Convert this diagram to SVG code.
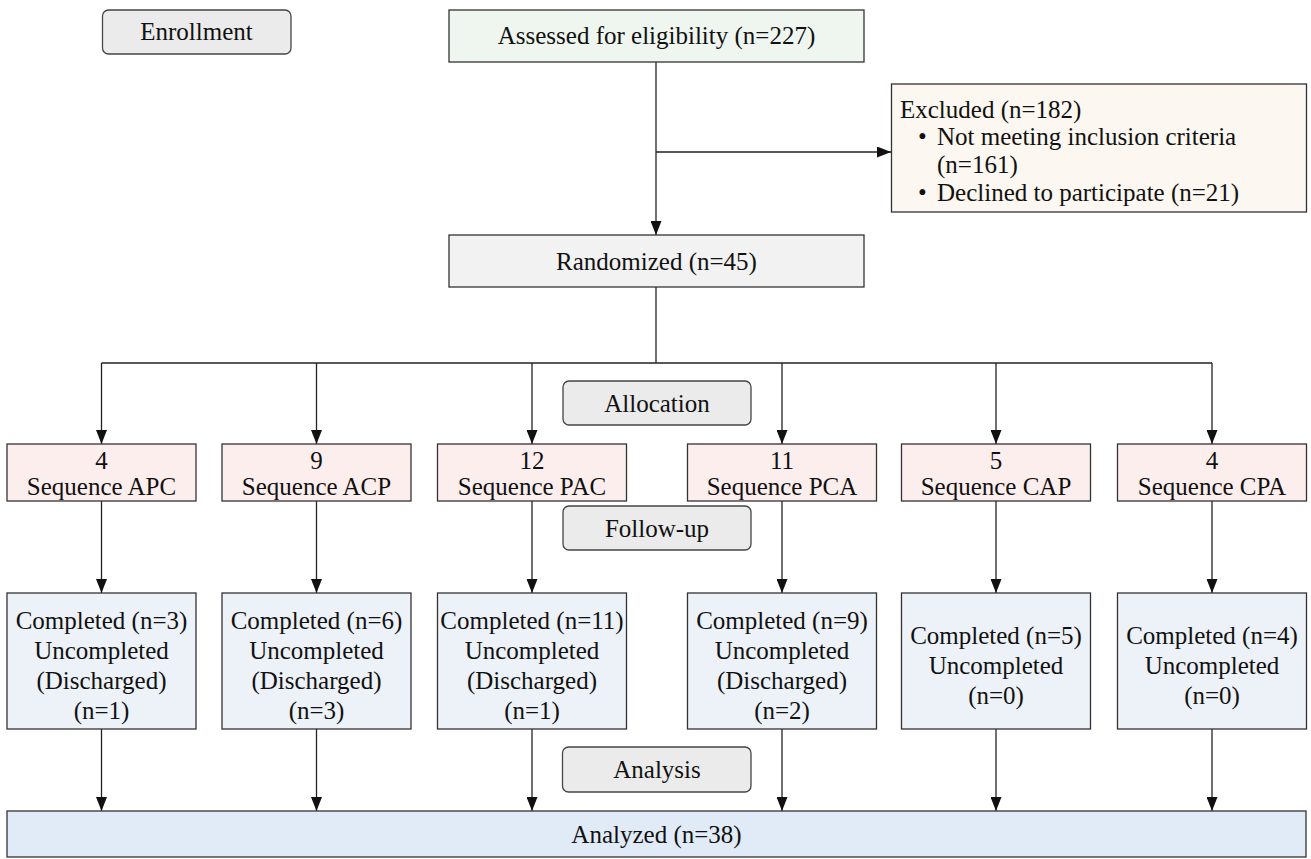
<svg xmlns="http://www.w3.org/2000/svg" width="1311" height="859" viewBox="0 0 1311 859">
<style>
text{font-family:"Liberation Serif","Times New Roman",serif;font-size:25px;fill:#111;}
.c{text-anchor:middle;}
.box{stroke:#333;stroke-width:1.3;}
.stage{fill:#ebebeb;stroke:#444;stroke-width:1.3;}
.seq{fill:#fdeeee;stroke:#333;stroke-width:1.3;}
.comp{fill:#edf1f8;stroke:#333;stroke-width:1.3;}
.ln{stroke:#222;stroke-width:1.3;fill:none;}
.arr{stroke:#222;stroke-width:1.3;fill:none;marker-end:url(#ah);}
</style>
<defs>
<marker id="ah" viewBox="0 0 14 11" refX="14" refY="5.5" markerWidth="14" markerHeight="11" markerUnits="userSpaceOnUse" orient="auto">
<path d="M0,0 L14,5.5 L0,11 Z" fill="#111"/>
</marker>
</defs>
<rect width="1311" height="859" fill="#fff"/>

<g id="connectors">
<line class="arr" x1="656" y1="62" x2="656" y2="235"/>
<line class="arr" x1="656" y1="152" x2="891" y2="152"/>
<line class="ln" x1="656" y1="287" x2="656" y2="363"/>
<line class="ln" x1="101.5" y1="363" x2="1212" y2="363"/>
<line class="arr" x1="101.5" y1="363" x2="101.5" y2="444"/>
<line class="arr" x1="316.5" y1="363" x2="316.5" y2="444"/>
<line class="arr" x1="532" y1="363" x2="532" y2="444"/>
<line class="arr" x1="782" y1="363" x2="782" y2="444"/>
<line class="arr" x1="996" y1="363" x2="996" y2="444"/>
<line class="arr" x1="1212" y1="363" x2="1212" y2="444"/>
<line class="arr" x1="101.5" y1="501" x2="101.5" y2="593"/>
<line class="arr" x1="316.5" y1="501" x2="316.5" y2="593"/>
<line class="arr" x1="532" y1="501" x2="532" y2="593"/>
<line class="arr" x1="782" y1="501" x2="782" y2="593"/>
<line class="arr" x1="996" y1="501" x2="996" y2="593"/>
<line class="arr" x1="1212" y1="501" x2="1212" y2="593"/>
<line class="arr" x1="101.5" y1="729" x2="101.5" y2="811"/>
<line class="arr" x1="316.5" y1="729" x2="316.5" y2="811"/>
<line class="arr" x1="532" y1="729" x2="532" y2="811"/>
<line class="arr" x1="782" y1="729" x2="782" y2="811"/>
<line class="arr" x1="996" y1="729" x2="996" y2="811"/>
<line class="arr" x1="1212" y1="729" x2="1212" y2="811"/>
</g>

<g id="enrollment">
<rect class="stage" x="102.5" y="10" width="188.5" height="44" rx="6"/>
<text class="c" x="196.5" y="40">Enrollment</text>
</g>
<g id="assessed">
<rect class="box" x="449" y="10" width="415" height="52" fill="#eef6ef"/>
<text class="c" x="656.5" y="44">Assessed for eligibility (n=227)</text>
</g>
<g id="excluded">
<rect class="box" x="891.5" y="84" width="415" height="128" fill="#fcf7f0"/>
<text x="900" y="118">Excluded (n=182)</text>
<text x="918" y="145">•</text>
<text x="937" y="145">Not meeting inclusion criteria</text>
<text x="937" y="173">(n=161)</text>
<text x="918" y="201">•</text>
<text x="937" y="201">Declined to participate (n=21)</text>
</g>
<g id="randomized">
<rect class="box" x="449" y="235" width="415" height="52" fill="#f2f2f2"/>
<text class="c" x="656.5" y="270">Randomized (n=45)</text>
</g>
<g id="allocation">
<rect class="stage" x="563" y="381" width="188" height="44" rx="6"/>
<text class="c" x="657" y="412">Allocation</text>
</g>

<g id="seq-apc">
<rect class="seq" x="7" y="444" width="189" height="57"/>
<text class="c" x="101.5" y="469">4</text>
<text class="c" x="101.5" y="495">Sequence APC</text>
</g>
<g id="seq-acp">
<rect class="seq" x="222" y="444" width="189" height="57"/>
<text class="c" x="316.5" y="469">9</text>
<text class="c" x="316.5" y="495">Sequence ACP</text>
</g>
<g id="seq-pac">
<rect class="seq" x="437.5" y="444" width="189" height="57"/>
<text class="c" x="532" y="469">12</text>
<text class="c" x="532" y="495">Sequence PAC</text>
</g>
<g id="seq-pca">
<rect class="seq" x="687.5" y="444" width="189" height="57"/>
<text class="c" x="782" y="469">11</text>
<text class="c" x="782" y="495">Sequence PCA</text>
</g>
<g id="seq-cap">
<rect class="seq" x="901.5" y="444" width="189" height="57"/>
<text class="c" x="996" y="469">5</text>
<text class="c" x="996" y="495">Sequence CAP</text>
</g>
<g id="seq-cpa">
<rect class="seq" x="1117.5" y="444" width="189" height="57"/>
<text class="c" x="1212" y="469">4</text>
<text class="c" x="1212" y="495">Sequence CPA</text>
</g>

<g id="followup">
<rect class="stage" x="563" y="506" width="188" height="44" rx="6"/>
<text class="c" x="657" y="537">Follow-up</text>
</g>

<g id="comp-apc">
<rect class="comp" x="7" y="593" width="189" height="136"/>
<text class="c" x="101.5" y="629">Completed (n=3)</text>
<text class="c" x="101.5" y="659">Uncompleted</text>
<text class="c" x="101.5" y="689">(Discharged)</text>
<text class="c" x="101.5" y="719">(n=1)</text>
</g>
<g id="comp-acp">
<rect class="comp" x="222" y="593" width="189" height="136"/>
<text class="c" x="316.5" y="629">Completed (n=6)</text>
<text class="c" x="316.5" y="659">Uncompleted</text>
<text class="c" x="316.5" y="689">(Discharged)</text>
<text class="c" x="316.5" y="719">(n=3)</text>
</g>
<g id="comp-pac">
<rect class="comp" x="437.5" y="593" width="189" height="136"/>
<text class="c" x="532" y="629">Completed (n=11)</text>
<text class="c" x="532" y="659">Uncompleted</text>
<text class="c" x="532" y="689">(Discharged)</text>
<text class="c" x="532" y="719">(n=1)</text>
</g>
<g id="comp-pca">
<rect class="comp" x="687.5" y="593" width="189" height="136"/>
<text class="c" x="782" y="629">Completed (n=9)</text>
<text class="c" x="782" y="659">Uncompleted</text>
<text class="c" x="782" y="689">(Discharged)</text>
<text class="c" x="782" y="719">(n=2)</text>
</g>
<g id="comp-cap">
<rect class="comp" x="901.5" y="593" width="189" height="136"/>
<text class="c" x="996" y="644">Completed (n=5)</text>
<text class="c" x="996" y="674">Uncompleted</text>
<text class="c" x="996" y="704">(n=0)</text>
</g>
<g id="comp-cpa">
<rect class="comp" x="1117.5" y="593" width="189" height="136"/>
<text class="c" x="1212" y="644">Completed (n=4)</text>
<text class="c" x="1212" y="674">Uncompleted</text>
<text class="c" x="1212" y="704">(n=0)</text>
</g>

<g id="analysis">
<rect class="stage" x="562.5" y="747" width="188.5" height="45" rx="6"/>
<text class="c" x="657" y="778">Analysis</text>
</g>
<g id="analyzed">
<rect class="box" x="7" y="811" width="1299" height="46" fill="#e1ebf7"/>
<text class="c" x="656.5" y="843">Analyzed (n=38)</text>
</g>
</svg>
